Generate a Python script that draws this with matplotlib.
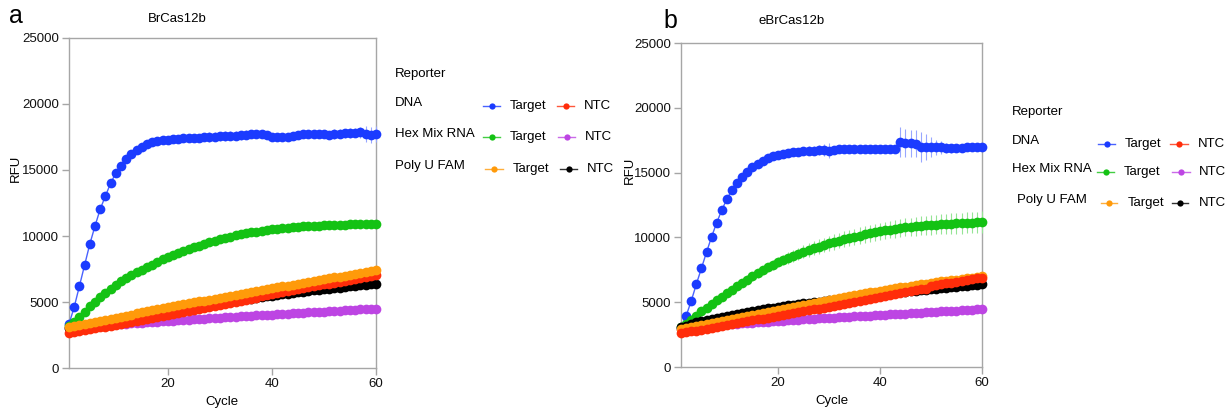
import matplotlib
matplotlib.use("Agg")
import matplotlib.pyplot as plt
from matplotlib.lines import Line2D
from matplotlib.colors import to_rgba

plt.rcParams["font.family"] = ["Liberation Sans", "DejaVu Sans"]

cycles = list(range(1, 61))

# ---------------- Panel a: BrCas12b ----------------
blue_a = [3330, 4620, 6200, 7800, 9390, 10760, 12040, 13030, 14000, 14770,
          15300, 15830, 16200, 16500, 16740, 16950, 17100, 17200, 17260, 17300,
          17340, 17370, 17400, 17420, 17440, 17460, 17480, 17500, 17520, 17550,
          17570, 17590, 17610, 17640, 17670, 17700, 17720, 17740, 17650, 17520,
          17480, 17520, 17480, 17600, 17650, 17700, 17720, 17740, 17760, 17700,
          17650, 17720, 17760, 17780, 17800, 17820, 17850, 17700, 17680, 17700]
blue_a_err = [100, 150, 200, 200, 250, 250, 300, 300, 300, 300,
              300, 300, 300, 300, 300, 300, 300, 300, 300, 300,
              300, 300, 300, 300, 300, 300, 300, 350, 350, 350,
              350, 350, 350, 350, 350, 300, 300, 300, 300, 300,
              300, 300, 300, 300, 300, 300, 300, 300, 300, 300,
              300, 350, 350, 350, 350, 350, 400, 600, 600, 600]
green_a = [3150, 3500, 3870, 4270, 4680, 5020, 5350, 5680, 6000, 6300,
           6560, 6810, 7040, 7250, 7450, 7650, 7840, 8030, 8220, 8400,
           8560, 8720, 8870, 9010, 9150, 9280, 9410, 9530, 9640, 9750,
           9850, 9950, 10040, 10120, 10200, 10270, 10330, 10390, 10450, 10500,
           10550, 10590, 10630, 10670, 10700, 10730, 10750, 10770, 10790, 10810,
           10830, 10840, 10860, 10870, 10880, 10890, 10890, 10900, 10900, 10900]
red_a = [2650, 2720, 2790, 2860, 2930, 3000, 3070, 3140, 3210, 3280,
         3350, 3420, 3490, 3560, 3640, 3710, 3780, 3850, 3925, 4000,
         4075, 4155, 4230, 4310, 4390, 4465, 4545, 4625, 4700, 4780,
         4860, 4940, 5020, 5100, 5180, 5260, 5340, 5420, 5500, 5580,
         5655, 5730, 5805, 5880, 5955, 6030, 6105, 6180, 6255, 6330,
         6400, 6475, 6545, 6620, 6690, 6760, 6835, 6905, 6980, 7050]
purple_a = [3050, 3080, 3110, 3140, 3170, 3195, 3225, 3255, 3280, 3310,
            3335, 3360, 3385, 3410, 3435, 3460, 3485, 3510, 3535, 3560,
            3585, 3610, 3635, 3660, 3685, 3710, 3735, 3760, 3785, 3810,
            3835, 3860, 3885, 3905, 3930, 3955, 3980, 4000, 4025, 4050,
            4075, 4095, 4120, 4140, 4165, 4190, 4210, 4235, 4255, 4280,
            4300, 4325, 4345, 4370, 4390, 4410, 4435, 4455, 4480, 4500]
orange_a = [3100, 3180, 3260, 3340, 3420, 3500, 3580, 3660, 3740, 3815,
            3895, 3975, 4050, 4130, 4210, 4290, 4365, 4445, 4520, 4600,
            4675, 4750, 4820, 4895, 4965, 5040, 5110, 5185, 5255, 5330,
            5400, 5475, 5545, 5620, 5690, 5760, 5835, 5905, 5980, 6050,
            6115, 6185, 6250, 6320, 6385, 6455, 6520, 6590, 6655, 6725,
            6790, 6860, 6925, 6995, 7060, 7130, 7195, 7265, 7330, 7400]
black_a = [3000, 3070, 3140, 3215, 3290, 3360, 3435, 3505, 3580, 3650,
           3715, 3780, 3840, 3905, 3965, 4030, 4090, 4155, 4215, 4280,
           4340, 4405, 4465, 4530, 4590, 4650, 4715, 4775, 4840, 4900,
           4960, 5020, 5075, 5135, 5190, 5250, 5305, 5365, 5420, 5480,
           5530, 5580, 5630, 5680, 5730, 5780, 5825, 5875, 5920, 5970,
           6010, 6055, 6095, 6140, 6180, 6220, 6260, 6300, 6340, 6380]

# ---------------- Panel b: eBrCas12b ----------------
blue_b = [3030, 3935, 5090, 6380, 7615, 8850, 10050, 11135, 12115, 12950,
          13660, 14220, 14680, 15070, 15400, 15680, 15920, 16100, 16250, 16360,
          16450, 16520, 16570, 16610, 16650, 16680, 16700, 16720, 16740, 16700,
          16780, 16800, 16810, 16810, 16820, 16820, 16830, 16830, 16830, 16840,
          16840, 16840, 16850, 17380, 17300, 17250, 17230, 17000, 16980, 16970,
          16950, 16950, 16880, 16870, 16900, 16920, 16940, 16950, 16960, 16970]
blue_b_err = [100, 150, 150, 200, 200, 200, 200, 250, 250, 250,
              250, 250, 250, 250, 250, 300, 300, 300, 300, 300,
              300, 300, 300, 300, 300, 350, 350, 400, 450, 600,
              300, 300, 300, 300, 300, 300, 300, 300, 300, 300,
              300, 300, 300, 1150, 1100, 1050, 1050, 1150, 1000, 770,
              600, 510, 400, 350, 300, 300, 300, 300, 300, 300]
green_b = [3100, 3330, 3600, 3930, 4300, 4580, 4860, 5140, 5420, 5700,
           5960, 6220, 6480, 6740, 7000, 7230, 7460, 7680, 7900, 8100,
           8260, 8420, 8580, 8740, 8900, 9030, 9160, 9290, 9420, 9550,
           9650, 9750, 9850, 9950, 10050, 10140, 10230, 10310, 10400, 10480,
           10540, 10600, 10660, 10720, 10780, 10820, 10860, 10890, 10930, 10960,
           10990, 11010, 11040, 11060, 11080, 11100, 11120, 11140, 11150, 11170]
green_b_err = [100, 120, 140, 160, 180, 200, 220, 240, 260, 280,
               300, 310, 320, 330, 340, 350, 360, 370, 385, 400,
               420, 440, 460, 480, 500, 520, 540, 560, 570, 580,
               590, 600, 610, 615, 620, 630, 635, 640, 645, 650,
               660, 670, 680, 690, 700, 710, 720, 730, 740, 750,
               760, 770, 780, 790, 800, 805, 810, 815, 820, 830]
red_b = [2600, 2670, 2740, 2815, 2885, 2960, 3030, 3105, 3175, 3250,
         3320, 3390, 3460, 3530, 3600, 3670, 3740, 3810, 3880, 3950,
         4020, 4090, 4160, 4230, 4300, 4370, 4440, 4510, 4580, 4650,
         4725, 4800, 4875, 4950, 5025, 5100, 5175, 5250, 5325, 5400,
         5475, 5545, 5620, 5690, 5765, 5835, 5910, 5980, 6050, 6250,
         6315, 6380, 6445, 6510, 6575, 6640, 6705, 6770, 6835, 6900]
purple_b = [2950, 2995, 3040, 3085, 3130, 3170, 3210, 3245, 3275, 3300,
            3325, 3350, 3375, 3400, 3425, 3450, 3480, 3505, 3530, 3560,
            3585, 3605, 3630, 3650, 3675, 3695, 3720, 3745, 3765, 3790,
            3810, 3835, 3855, 3875, 3900, 3920, 3945, 3965, 3990, 4010,
            4035, 4055, 4080, 4100, 4125, 4145, 4170, 4190, 4215, 4240,
            4260, 4285, 4305, 4330, 4350, 4370, 4395, 4415, 4440, 4460]
orange_b = [2900, 2985, 3065, 3150, 3235, 3315, 3400, 3485, 3565, 3650,
            3725, 3800, 3875, 3950, 4025, 4100, 4175, 4250, 4325, 4400,
            4475, 4550, 4625, 4700, 4775, 4850, 4925, 5000, 5075, 5150,
            5225, 5300, 5375, 5450, 5525, 5600, 5675, 5750, 5825, 5900,
            5960, 6020, 6080, 6140, 6200, 6260, 6320, 6380, 6440, 6500,
            6550, 6600, 6650, 6700, 6750, 6800, 6850, 6900, 6950, 7000]
black_b = [3050, 3190, 3320, 3440, 3550, 3640, 3725, 3805, 3880, 3950,
           4025, 4100, 4170, 4240, 4310, 4380, 4450, 4520, 4585, 4650,
           4700, 4750, 4800, 4850, 4900, 4950, 5000, 5050, 5100, 5150,
           5195, 5240, 5285, 5330, 5375, 5420, 5465, 5510, 5555, 5600,
           5640, 5680, 5720, 5760, 5800, 5840, 5880, 5920, 5960, 6000,
           6040, 6080, 6120, 6160, 6200, 6240, 6280, 6320, 6360, 6400]

# scalar SEM for the slow, tightly replicated series
small_err_a = {"green": 120, "red": 180, "purple": 120, "orange": 200, "black": 100}
small_err_b = {"red": 200, "purple": 120, "orange": 200, "black": 100}

reporters = ["DNA", "Hex Mix RNA", "Poly U FAM"]
conditions = ["Target", "NTC"]
yticks = [0, 5000, 10000, 15000, 20000, 25000]
xticks = [20, 40, 60]

colors = {
    "blue": "#1b3bff",
    "red": "#ff2d0a",
    "green": "#14c214",
    "purple": "#bd45e3",
    "orange": "#ff9a0a",
    "black": "#000000",
}

W, H = 1226, 411
fig = plt.figure(figsize=(W / 100, H / 100), dpi=100)


def fx(px):
    return px / W


def fy(py):
    return 1 - py / H


def light(c, a=0.45):
    r, g, b, _ = to_rgba(c)
    return (r + (1 - r) * (1 - a), g + (1 - g) * (1 - a), b + (1 - b) * (1 - a))


def series(ax, y, err, cname, z):
    c = colors[cname]
    cont = ax.errorbar(cycles, y, yerr=err, fmt="o-", color=c, ms=7.0, mew=0,
                       lw=1.0, ecolor=light(c), elinewidth=0.8, capsize=3.5,
                       capthick=0.8, zorder=z)
    for art in cont.get_children():
        art.set_clip_on(False)
    cont.lines[0].set_color(light(c, 0.8))
    cont.lines[0].set_markerfacecolor(c)
    return cont


def style_axes(ax):
    ax.set_xlim(1, 60)
    ax.set_ylim(0, 25000)
    ax.set_xticks(xticks)
    ax.set_yticks(yticks)
    for s in ax.spines.values():
        s.set_color("#a6a6a6")
        s.set_linewidth(1.0)
    ax.tick_params(length=5, width=1.0, color="#a6a6a6", labelsize=9.5,
                   pad=2, labelcolor="#111111")


# axes boxes in pixel coordinates
ax_a = fig.add_axes([fx(69), fy(368), fx(376) - fx(69), fy(38) - fy(368)])
ax_b = fig.add_axes([fx(681), fy(367), fx(982) - fx(681), fy(43) - fy(367)])

series(ax_a, blue_a, blue_a_err, "blue", 3)
series(ax_a, green_a, small_err_a["green"], "green", 4)
series(ax_a, purple_a, small_err_a["purple"], "purple", 5)
series(ax_a, black_a, small_err_a["black"], "black", 6)
series(ax_a, red_a, small_err_a["red"], "red", 7)
series(ax_a, orange_a, small_err_a["orange"], "orange", 8)

series(ax_b, blue_b, blue_b_err, "blue", 3)
series(ax_b, green_b, green_b_err, "green", 4)
series(ax_b, purple_b, small_err_b["purple"], "purple", 5)
series(ax_b, black_b, small_err_b["black"], "black", 6)
series(ax_b, orange_b, small_err_b["orange"], "orange", 7)
series(ax_b, red_b, small_err_b["red"], "red", 8)

for ax in (ax_a, ax_b):
    style_axes(ax)

# titles, axis labels, panel letters
fig.text(fx(177), fy(19), "BrCas12b", ha="center", va="center", fontsize=9.5)
fig.text(fx(792), fy(21), "eBrCas12b", ha="center", va="center", fontsize=9.5)
fig.text(fx(9), fy(16), "a", ha="left", va="center", fontsize=18)
fig.text(fx(663), fy(21), "b", ha="left", va="center", fontsize=18)
fig.text(fx(16), fy(168), "RFU", rotation=90, ha="center", va="center", fontsize=9.5)
fig.text(fx(630), fy(170), "RFU", rotation=90, ha="center", va="center", fontsize=9.5)
fig.text(fx(222), fy(402), "Cycle", ha="center", va="center", fontsize=9.5)
fig.text(fx(832), fy(401), "Cycle", ha="center", va="center", fontsize=9.5)

# legends: grid of reporter rows x condition columns
legend_colors = [["blue", "red"], ["green", "purple"], ["orange", "black"]]


def handle(x0, x1, y, cname):
    c = colors[cname]
    fig.add_artist(Line2D([fx(x0), fx(x1)], [fy(y), fy(y)], color=light(c, 0.8),
                          lw=1.0, transform=fig.transFigure))
    fig.add_artist(Line2D([fx((x0 + x1) / 2)], [fy(y)], marker="o", ms=4.5, mew=0,
                          color=c, transform=fig.transFigure))


def draw_legend(x_label, y_title, rows):
    fig.text(fx(x_label), fy(y_title), "Reporter", ha="left", va="center", fontsize=9.5)
    for i, (rx, ry, hx) in enumerate(rows):
        fig.text(fx(rx), fy(ry), reporters[i], ha="left", va="center", fontsize=9.5)
        for j in range(2):
            x0, x1, tx = hx[j]
            handle(x0, x1, ry + 3, legend_colors[i][j])
            fig.text(fx(tx), fy(ry + 3), conditions[j], ha="left", va="center",
                     fontsize=9.5)


draw_legend(395, 74, [
    (395, 103, [(483, 500, 510), (557, 574, 584)]),
    (395, 134, [(483, 500, 510), (558, 575, 585)]),
    (395, 166, [(485, 503, 513), (560, 577, 587)]),
])
draw_legend(1012, 112, [
    (1012, 141, [(1098, 1115, 1125), (1170, 1188, 1198)]),
    (1012, 169, [(1097, 1114, 1124), (1172, 1190, 1199)]),
    (1017, 200, [(1101, 1117, 1128), (1172, 1188, 1199)]),
])

fig.savefig("out.png", dpi=100)
